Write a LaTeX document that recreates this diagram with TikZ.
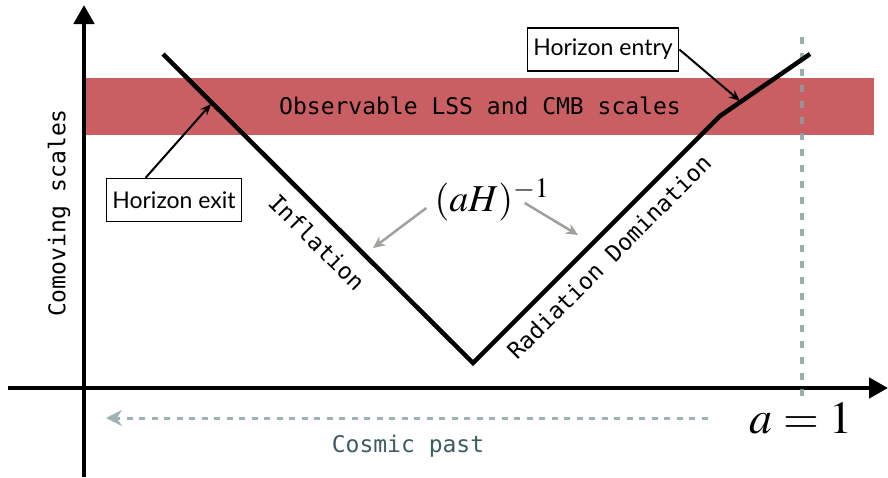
\documentclass[tikz,border=0pt]{standalone}
\usepackage{mathptmx}
\usepackage[no-math]{fontspec}
\setmainfont{Lato}
\newfontfamily\monof{DejaVu Sans Mono}
\usetikzlibrary{arrows.meta}
\definecolor{bande}{RGB}{201,94,99}
\definecolor{tiret}{RGB}{160,178,180}
\definecolor{pointille}{RGB}{138,160,163}
\definecolor{passe}{RGB}{62,92,94}
\definecolor{gris}{RGB}{162,160,156}
\tikzset{
	etiq/.style={draw=black,line width=1.4pt,fill=white,font=\fontsize{23}{26}\selectfont,minimum height=43pt,inner xsep=6pt},
	mono/.style={font=\monof\fontsize{23}{26}\selectfont},
	fleche/.style={line width=2pt,-{Stealth[length=11pt,width=9pt]}},
	flechegris/.style={gris,line width=2.5pt,-{Stealth[length=12pt,width=11pt]}}
}
\begin{document}
\begin{tikzpicture}[x=1pt,y=-1pt]
		\useasboundingbox (0,0) rectangle (888,477);
		% Bande observable
		\fill[bande] (86,78) rectangle (874,135);
		\node[mono] (obs) at (480,106) {Observable LSS and CMB scales};
		
		% Axes
		\draw[line width=4.5pt,-{Triangle[length=19pt,width=20pt]}] (84,477) -- (84,5);
		\draw[line width=4.5pt,-{Triangle[length=19pt,width=20pt]}] (8,388) -- (888,388);
		\draw[pointille,line width=3.5pt,opacity=0.85,dash pattern=on 7pt off 9pt] (802,37) -- (802,405);
		
		% Rayon de Hubble
		\coordinate (debut) at (163,54);
		\coordinate (creux) at (473,363);
		\coordinate (coude) at (720,116);
		\coordinate (fin) at (810,54);
		\draw[line width=4.5pt] (debut) -- (creux) -- (coude) -- (fin);
		\coordinate (sortie) at (211,104);
		\coordinate (entree) at (740,101);
		
		\node[etiq] (hexit) at (174,200) {Horizon exit};
		\node[etiq] (hentry) at (603,49.5) {Horizon entry};
		\draw[fleche] (hexit.142) -- (sortie);
		\draw[fleche] (hentry.east) -- (entree);
		
		\node[mono,rotate=-45] (infl) at (317,242) {Inflation};
		\node[mono,rotate=45] (rad) at (609,257) {Radiation Domination};
		\node[mono,rotate=90] (como) at (59,213) {Comoving scales};
		
		\node[inner sep=0pt,font=\fontsize{38}{40}\selectfont] (aH) at (492,200) {$(aH)^{-1}$};
		\coordinate (pinfl) at (373,248);
		\coordinate (prad) at (578,235);
		\draw[flechegris] ([xshift=-8pt,yshift=-8pt]aH.west) -- (pinfl);
		\draw[flechegris] ([xshift=-25pt,yshift=-3pt]aH.east) -- (prad);
		
		% Passe cosmique
		\node[inner sep=0pt,font=\fontsize{46}{48}\selectfont,anchor=base] (aun) at (801,433) {$a=1$};
		\coordinate (past) at (106,418);
		\draw[tiret,line width=3pt,dash pattern=on 6pt off 6.5pt,-{Stealth[length=16pt,width=16pt]}] (aun.west |- past) ++(-42,0) -- (past);
		\node[mono,text=passe] (cosmic) at (408,446) {Cosmic past};
	\end{tikzpicture}
\end{document}
